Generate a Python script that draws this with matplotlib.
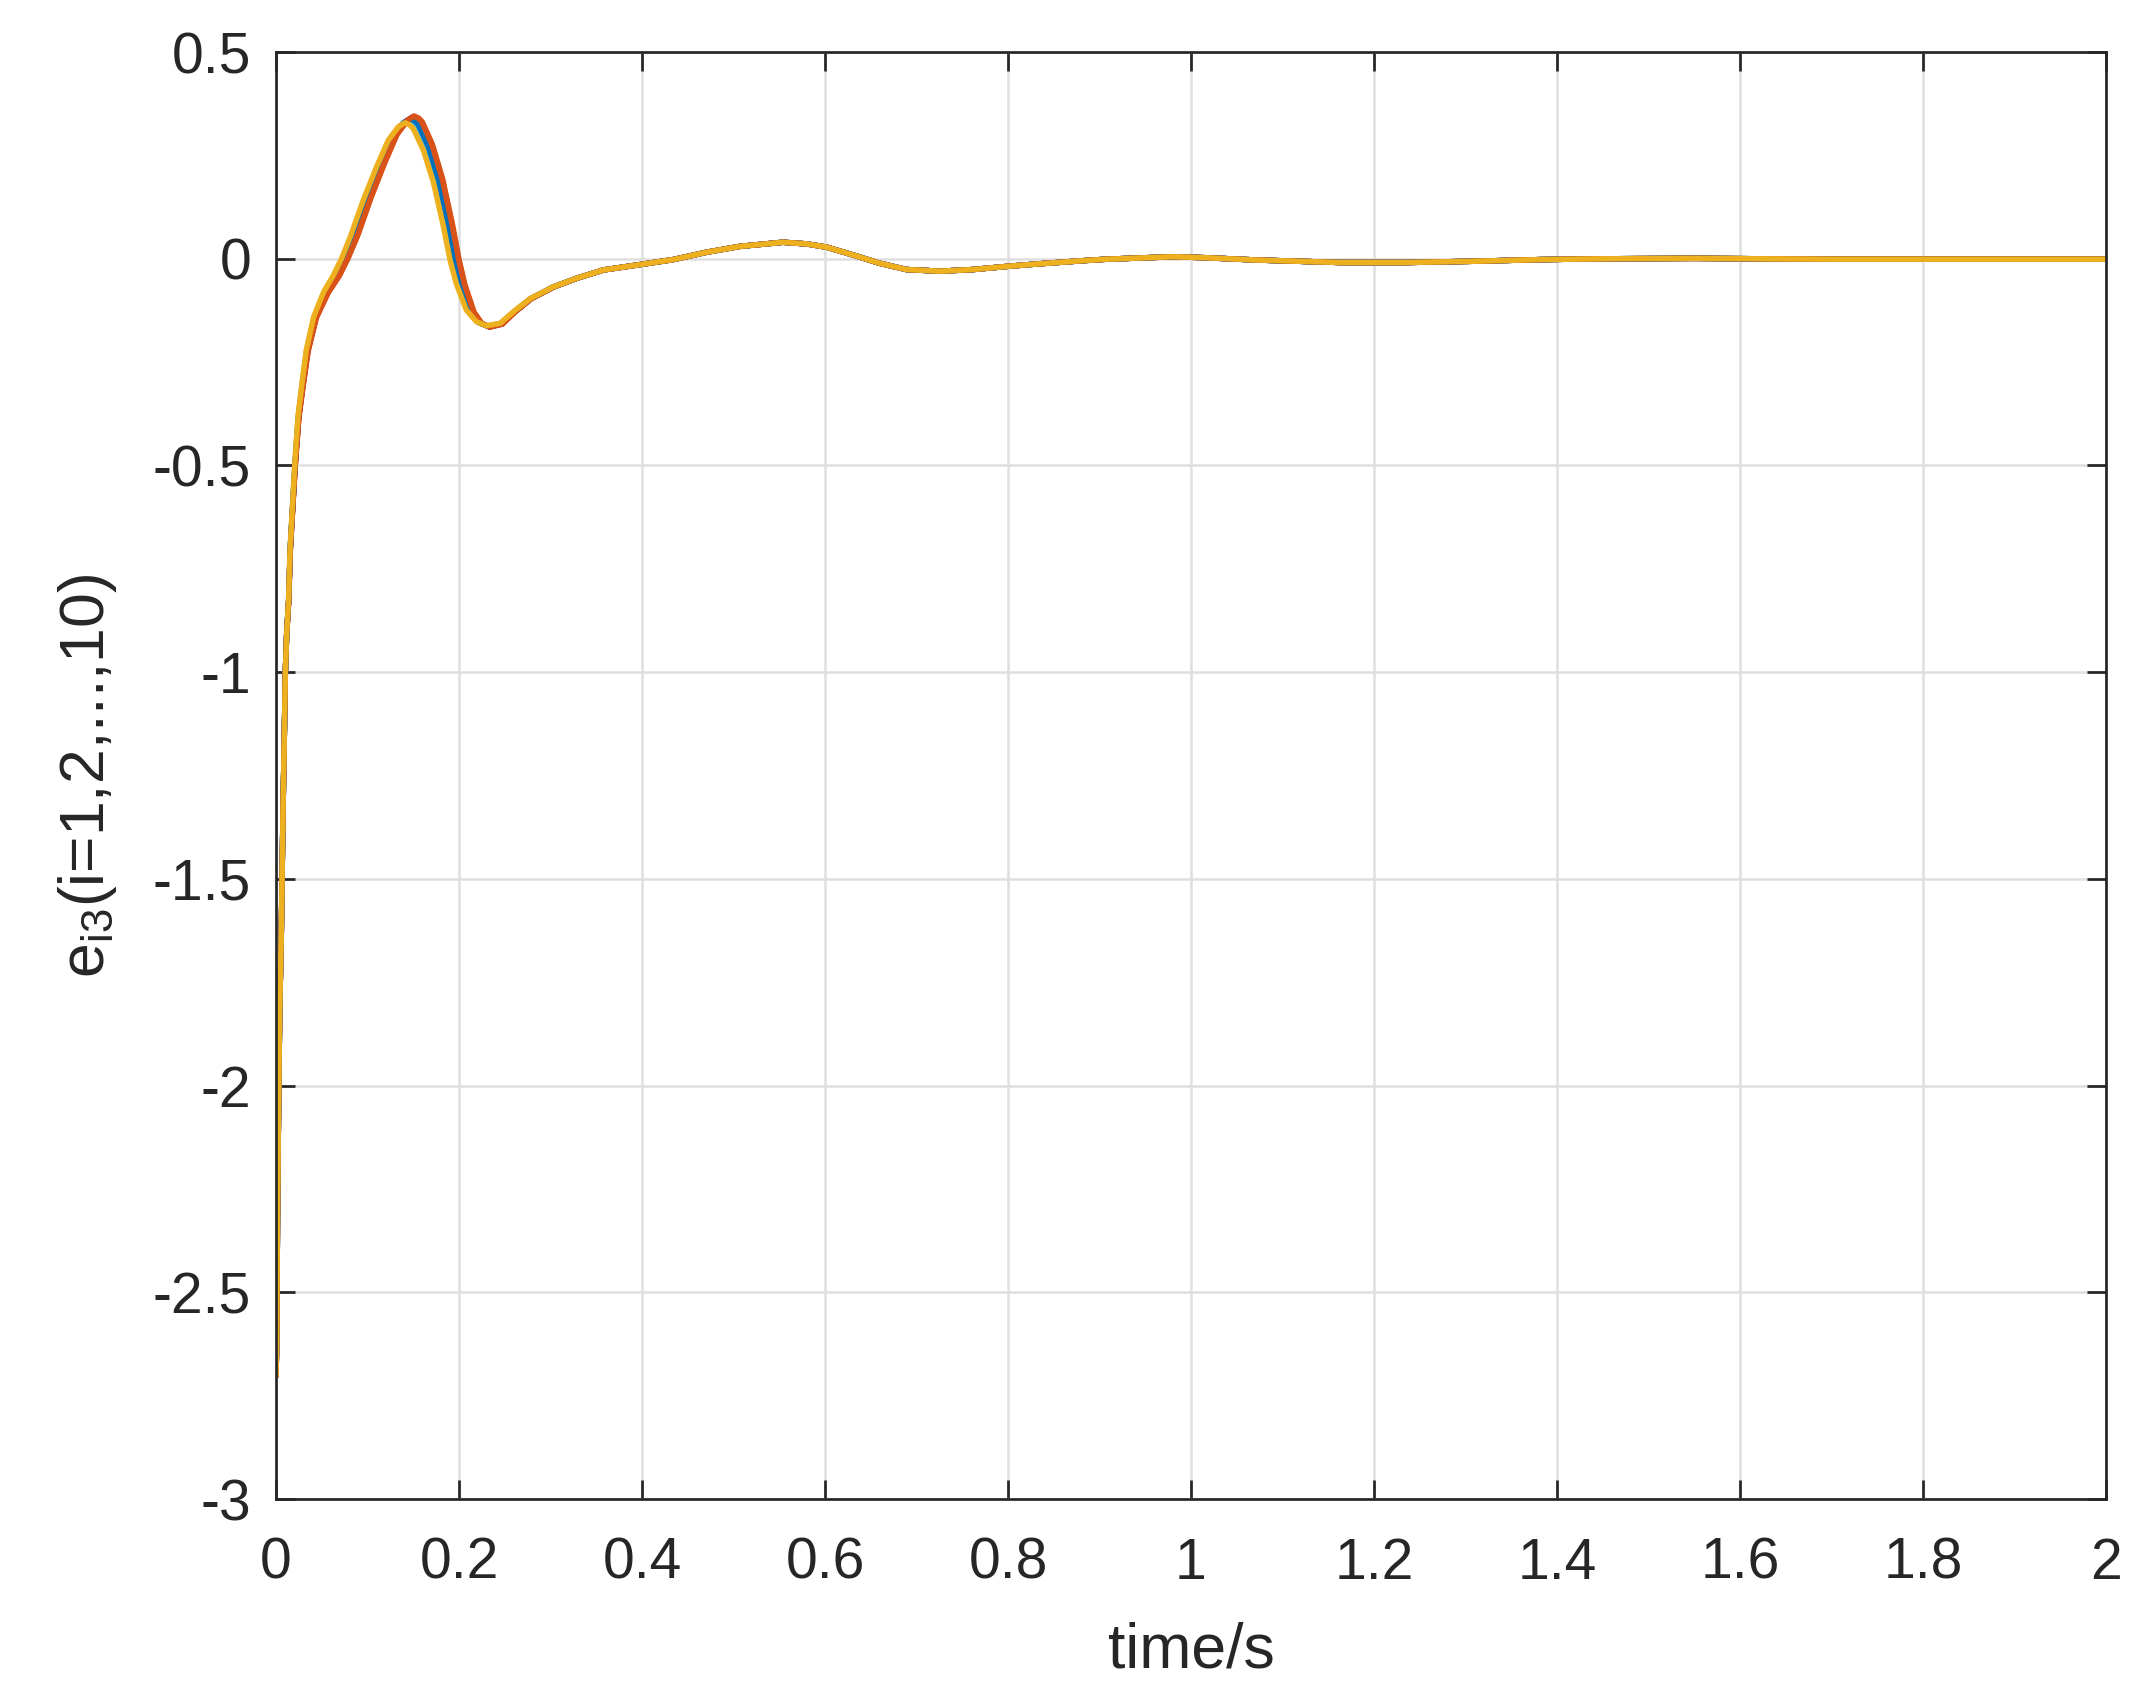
import matplotlib.pyplot as plt
import numpy as np
from matplotlib import rcParams

rcParams['font.family'] = ['Liberation Sans', 'DejaVu Sans']
rcParams['mathtext.fontset'] = 'custom'
rcParams['mathtext.rm'] = 'Liberation Sans'
rcParams['mathtext.it'] = 'Liberation Sans'

# base response (the top, yellow curve)
t = [0.0, 0.0008, 0.0016, 0.0027, 0.0040, 0.0058, 0.0066, 0.0077, 0.0091, 0.0102,
     0.0117, 0.0137, 0.0153, 0.0204, 0.024, 0.0284, 0.0331, 0.0412, 0.0521, 0.0627,
     0.0715, 0.0815, 0.0954, 0.110, 0.1228, 0.1337, 0.141, 0.146, 0.150, 0.161,
     0.172, 0.183, 0.1902, 0.197, 0.208, 0.219, 0.230, 0.245, 0.2596, 0.278,
     0.303, 0.3287, 0.358, 0.398, 0.434, 0.471, 0.507, 0.554, 0.580, 0.602,
     0.631, 0.660, 0.689, 0.726, 0.762, 0.801, 0.835, 0.886, 0.908, 0.981,
     1.017, 1.072, 1.163, 1.236, 1.309, 1.381, 1.45, 1.55, 1.70, 1.85, 2.0]
y = [-2.70, -2.62, -2.32, -2.07, -1.82, -1.63, -1.50, -1.33, -1.15, -1.00,
     -0.905, -0.826, -0.705, -0.50, -0.382, -0.301, -0.221, -0.140, -0.080, -0.040,
     0.0, 0.055, 0.142, 0.223, 0.287, 0.319, 0.329, 0.324, 0.315, 0.263,
     0.185, 0.078, -0.003, -0.060, -0.124, -0.152, -0.162, -0.156, -0.128, -0.096,
     -0.068, -0.047, -0.027, -0.014, -0.002, 0.016, 0.030, 0.040, 0.036, 0.028,
     0.009, -0.011, -0.026, -0.030, -0.026, -0.018, -0.012, -0.004, -0.001, 0.005,
     0.0025, -0.003, -0.009, -0.009, -0.006, -0.002, 0.0, 0.001, -0.001, -0.001, -0.001]
# how far the ten curves fan out at each point (0 = all on top of each other)
spread = [0, 0, 0, 0, 0, 0, 0, 0, 0, 0,
          0, 0.02, 0.03, 0.06, 0.1, 0.15, 0.2, 0.3, 0.5, 0.65,
          0.7, 0.8, 0.85, 0.9, 0.95, 1, 1, 1, 1, 1,
          1, 1, 1, 0.95, 0.85, 0.6, 0.4, 0.25, 0.15, 0.1,
          0.05, 0.02, 0, 0, 0, 0, 0, 0, 0, 0,
          0, 0, 0, 0, 0, 0, 0, 0, 0, 0,
          0, 0, 0, 0, 0, 0, 0, 0, 0, 0, 0]

# per-agent lag (s) and peak gain, i = 1..10
lag = [0.006, 0.010, 0.001, 0.0075, 0.005, 0.004, 0.008, 0.0055, 0.0095, 0.0]
gain = [0.03, 0.05, 0.005, 0.04, 0.025, 0.02, 0.04, 0.03, 0.048, 0.0]

colors = ['#0072BD', '#D95319', '#EDB120', '#7E2F8E', '#77AC30', '#4DBEEE', '#A2142F']

xticks = [0, 0.2, 0.4, 0.6, 0.8, 1, 1.2, 1.4, 1.6, 1.8, 2]
xlabels = ['0', '0.2', '0.4', '0.6', '0.8', '1', '1.2', '1.4', '1.6', '1.8', '2']
yticks = [-3, -2.5, -2, -1.5, -1, -0.5, 0, 0.5]
ylabels = ['-3', '-2.5', '-2', '-1.5', '-1', '-0.5', '0', '0.5']

fig = plt.figure(figsize=(2143 / 300, 1707 / 300), dpi=300)
ax = fig.add_axes([0.1288, 0.1218, 0.9827 - 0.1288, 0.9695 - 0.1218])

tt = np.array(t)
yy = np.array(y)
w = np.array(spread)
for i in range(10):
    ax.plot(tt + lag[i] * w, yy * (1 + gain[i] * w), color=colors[i % 7], lw=1.3,
            solid_joinstyle='round')

ax.set_xlim(0, 2)
ax.set_ylim(-3, 0.5)
ax.set_xticks(xticks)
ax.set_xticklabels(xlabels)
ax.set_yticks(yticks)
ax.set_yticklabels(ylabels)

dark = '#262626'
ax.grid(True, color='#dfdfdf', lw=0.6)
ax.set_axisbelow(True)
for s in ax.spines.values():
    s.set_color(dark)
    s.set_linewidth(0.65)
ax.tick_params(direction='in', length=4.5, width=0.65, colors=dark, labelsize=13.7,
               top=True, right=True)
ax.tick_params(axis='x', pad=9)
ax.tick_params(axis='y', pad=6)

ax.set_xlabel('time/s', fontsize=15, color=dark, labelpad=7.3)
ax.set_ylabel(r'e$_{\mathrm{i3}}$(i=1,2,...,10)', fontsize=15, color=dark, labelpad=8)

plt.savefig('out.png', dpi=300)
plt.close()
